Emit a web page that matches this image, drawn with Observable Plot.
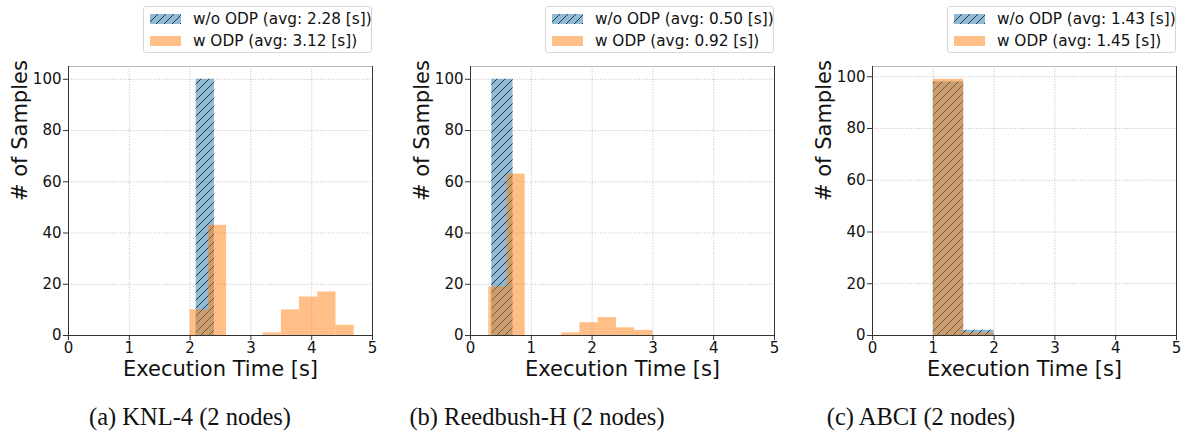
<!DOCTYPE html>
<html>
<head>
<meta charset="utf-8">
<script src="https://cdn.jsdelivr.net/npm/d3@7"></script>
<script src="https://cdn.jsdelivr.net/npm/@observablehq/plot@0.6"></script>
<style>
  html, body { margin: 0; padding: 0; background: #fff; }
  #root { position: relative; width: 1184px; height: 434px; overflow: hidden; font-family: "DejaVu Sans", sans-serif; }
  .panel { position: absolute; top: 0; }
  .legend { position: absolute; top: 6px; height: 47px; border: 1px solid #d8d8d8; border-radius: 3px; background: #fff; box-sizing: border-box; font-family: "DejaVu Sans", sans-serif; font-size: 15.3px; color: #111; }
  .legend .row { position: absolute; left: 6px; height: 20px; display: flex; align-items: center; white-space: nowrap; }
  .legend svg { display: block; margin-right: 12px; }
  .caption { position: absolute; top: 403px; font-family: "Liberation Serif", "Times New Roman", serif; font-size: 24.5px; color: #111; white-space: nowrap; transform: translateX(-50%); }
</style>
</head>
<body>
<div id="root"></div>
<script>
// ---- data ----
const xTicks = [0, 1, 2, 3, 4, 5];
const yTicks = [0, 20, 40, 60, 80, 100];
const panelNames = ["KNL-4", "Reedbush-H", "ABCI"];
const captions = ["(a) KNL-4 (2 nodes)", "(b) Reedbush-H (2 nodes)", "(c) ABCI (2 nodes)"];
const seriesNames = ["w/o ODP", "w ODP"];
const avgWo = ["2.28", "0.50", "1.43"];
const avgW = ["3.12", "0.92", "1.45"];

const knlWoEdges = [2.1, 2.4];
const knlWoCounts = [100];
const knlWEdges = [2.0, 2.3, 2.6, 2.9, 3.2, 3.5, 3.8, 4.1, 4.4, 4.7];
const knlWCounts = [10, 43, 0, 0, 1, 10, 15, 17, 4];

const reedWoEdges = [0.35, 0.7];
const reedWoCounts = [100];
const reedWEdges = [0.3, 0.6, 0.9, 1.2, 1.5, 1.8, 2.1, 2.4, 2.7, 3.0];
const reedWCounts = [19, 63, 0, 0, 1, 5, 7, 3, 2];

const abciWoEdges = [1.0, 1.5, 2.0];
const abciWoCounts = [98, 2];
const abciWEdges = [1.0, 1.5, 2.0];
const abciWCounts = [99, 1];

// ---- helpers ----
function bins(edges, counts) {
  return counts.map((c, i) => ({x1: edges[i], x2: edges[i + 1], y1: 0, y2: c}));
}

const panels = [
  {wo: bins(knlWoEdges, knlWoCounts), w: bins(knlWEdges, knlWCounts), left: 0, width: 390, ml: 68, mr: 18, legL: 143, legW: 229, capX: 190},
  {wo: bins(reedWoEdges, reedWoCounts), w: bins(reedWEdges, reedWCounts), left: 400, width: 390, ml: 70, mr: 16, legL: 545, legW: 229, capX: 537},
  {wo: bins(abciWoEdges, abciWoCounts), w: bins(abciWEdges, abciWCounts), left: 800, width: 384, ml: 72, mr: 8, legL: 947, legW: 229, capX: 921}
];

const blue = "#1f77b4";
const orange = "#ff7f0e";
const root = document.getElementById("root");

function hatchDefs(id) {
  return `<defs><pattern id="${id}" patternUnits="userSpaceOnUse" width="8" height="8">
    <path d="M-2,2 L2,-2 M0,8 L8,0 M6,10 L10,6" stroke="#111" stroke-width="0.8"/></pattern></defs>`;
}

panels.forEach((p, i) => {
  const hid = "hatch" + i;
  const ymax = Math.max(d3.max(p.wo, d => d.y2), d3.max(p.w, d => d.y2)) * 1.05;
  const plot = Plot.plot({
    width: p.width,
    height: 434,
    marginLeft: p.ml,
    marginRight: p.mr,
    marginTop: 66,
    marginBottom: 99,
    style: {fontFamily: "DejaVu Sans, sans-serif", fontSize: "15px", background: "transparent", color: "#111", overflow: "visible"},
    x: {domain: [0, 5]},
    y: {domain: [0, ymax]},
    marks: [
      Plot.gridX(xTicks.slice(1, -1), {stroke: "#b0b0b0", strokeOpacity: 1, strokeWidth: 0.8, strokeDasharray: "1,1.6"}),
      Plot.gridY(yTicks.slice(1), {stroke: "#b0b0b0", strokeOpacity: 1, strokeWidth: 0.8, strokeDasharray: "1,1.6"}),
      Plot.rect(p.wo, {x1: "x1", x2: "x2", y1: "y1", y2: "y2", fill: blue, fillOpacity: 0.5}),
      Plot.rect(p.wo, {x1: "x1", x2: "x2", y1: "y1", y2: "y2", fill: `url(#${hid})`}),
      Plot.rect(p.w, {x1: "x1", x2: "x2", y1: "y1", y2: "y2", fill: orange, fillOpacity: 0.5}),
      Plot.ruleY([ymax], {stroke: "#b8b8b8", strokeWidth: 1}),
      Plot.ruleX([5], {stroke: "#333", strokeWidth: 1}),
      Plot.ruleX([0], {stroke: "#333", strokeWidth: 1}),
      Plot.ruleY([0], {stroke: "#333", strokeWidth: 1}),
      Plot.axisX(xTicks, {tickSize: 5, tickPadding: 2, label: null, fontSize: 15, stroke: "#333"}),
      Plot.axisY(yTicks, {tickSize: 5, tickPadding: 2, label: null, fontSize: 15, stroke: "#333"}),
      Plot.text(["Execution Time [s]"], {frameAnchor: "bottom", dy: 40, fontSize: 21, fill: "#111"}),
      Plot.text(["# of Samples"], {frameAnchor: "left", dx: -48, rotate: -90, fontSize: 21, fill: "#111"})
    ]
  });
  plot.insertAdjacentHTML("afterbegin", hatchDefs(hid));
  plot.classList.add("panel");
  plot.style.left = p.left + "px";
  root.appendChild(plot);

  // legend
  const leg = document.createElement("div");
  leg.className = "legend";
  leg.style.left = p.legL + "px";
  leg.style.width = p.legW + "px";
  const lid = "lhatch" + i;
  leg.innerHTML = `
    <div class="row" style="top:2px">
      <svg width="31" height="10">${hatchDefs(lid)}
        <rect width="31" height="10" fill="${blue}" fill-opacity="0.5"/>
        <rect width="31" height="10" fill="url(#${lid})"/></svg>
      <span>${seriesNames[0]} (avg: ${avgWo[i]} [s])</span>
    </div>
    <div class="row" style="top:24px">
      <svg width="31" height="10"><rect width="31" height="10" fill="${orange}" fill-opacity="0.5"/></svg>
      <span>${seriesNames[1]} (avg: ${avgW[i]} [s])</span>
    </div>`;
  root.appendChild(leg);

  const cap = document.createElement("div");
  cap.className = "caption";
  cap.style.left = p.capX + "px";
  cap.textContent = captions[i];
  root.appendChild(cap);
});
</script>
</body>
</html>
